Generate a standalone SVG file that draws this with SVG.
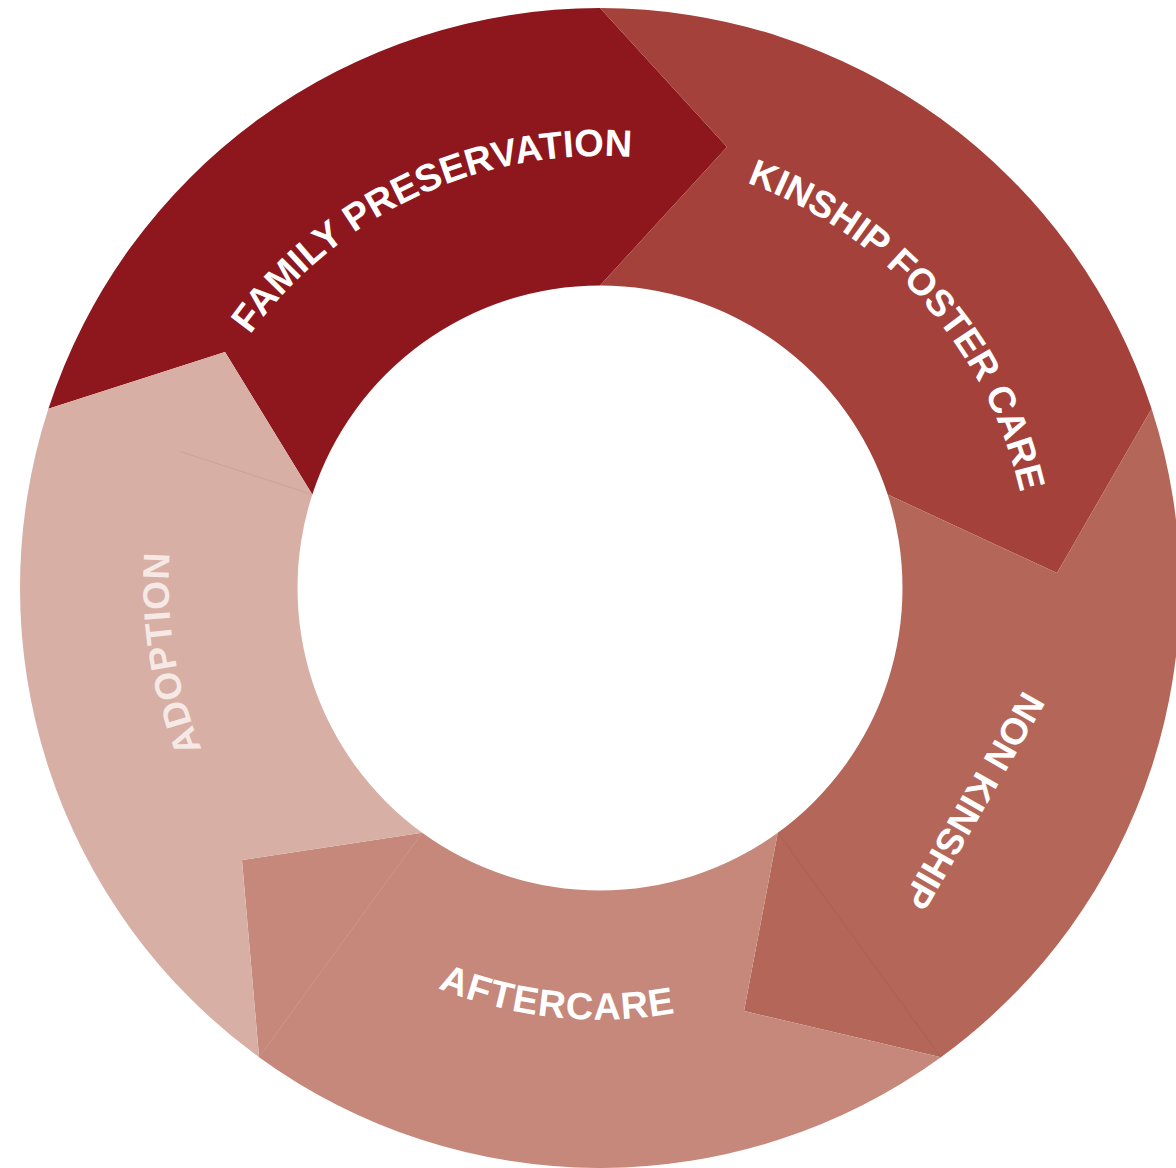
<svg xmlns="http://www.w3.org/2000/svg" width="1176" height="1168" viewBox="0 0 1176 1168">
<style>
.lbl{font-family:"Liberation Sans",Arial,Helvetica,sans-serif;font-weight:bold;font-size:37px;fill:#ffffff;}
.lbl-light{fill:#F6E8E4;}
.seam{fill:none;stroke-width:1;}
</style>
<defs>
<path id="arcFamily" d="M250.06,334.69 A432,432 0 0 1 747.75,182.05"/>
<path id="arcKinship" d="M746.70,182.73 A431,431 0 0 1 1031,588"/>
<path id="arcAftercare" d="M437.97,988.03 A431.6,431.6 0 0 0 747.62,993.57"/>
<path id="arcAdoption" d="M201.80,749.10 A433,433 0 0 1 193.11,439.91"/>
</defs>
<rect width="1176" height="1168" fill="#ffffff"/>
<g id="family-preservation">
<path fill="#8D171D" d="M48.39,408.77 A580,580 0 0 1 600,8 L727,147 L600,285.5 A302.5,302.5 0 0 0 312.31,494.52 L225,352 Z"/>
<text class="lbl" style="font-size:38px"><textPath href="#arcFamily">FAMILY PRESERVATION</textPath></text>
</g>
<g id="kinship-foster-care">
<path fill="#A4413A" d="M600,8 A580,580 0 0 1 1151.61,408.77 L1057,573 L887.69,494.52 A302.5,302.5 0 0 0 600,285.5 L727,147 Z"/>
<text class="lbl" style="font-size:37.5px"><textPath href="#arcKinship">KINSHIP FOSTER CARE</textPath></text>
</g>
<g id="non-kinship">
<path fill="#B46659" d="M1151.61,408.77 A580,580 0 0 1 940.92,1057.23 L744,1011 L777.80,832.73 A302.5,302.5 0 0 0 887.69,494.52 L1057,573 Z"/>
<text class="lbl" x="0" y="0" text-anchor="middle" transform="translate(963,794.5) rotate(120)">NON KINSHIP</text>
</g>
<g id="aftercare">
<path fill="#C5887B" d="M940.92,1057.23 A580,580 0 0 1 259.08,1057.23 L242,860 L422.20,832.73 A302.5,302.5 0 0 0 777.80,832.73 L744,1011 Z"/>
<text class="lbl" style="font-size:38px" letter-spacing="0.9"><textPath href="#arcAftercare">AFTERCARE</textPath></text>
</g>
<g id="adoption">
<path fill="#D7AFA4" d="M259.08,1057.23 A580,580 0 0 1 48.39,408.77 L225,352 L312.31,494.52 A302.5,302.5 0 0 0 422.20,832.73 L242,860 Z"/>
<text class="lbl lbl-light" letter-spacing="0.7"><textPath href="#arcAdoption">ADOPTION</textPath></text>
</g>
<g id="connectors">
<line class="seam" x1="312.31" y1="494.52" x2="180" y2="451.5" stroke="#C89A90" stroke-opacity="0.6"/>
<line class="seam" x1="777.80" y1="832.73" x2="940.92" y2="1057.23" stroke="#A95A4F" stroke-opacity="0.6"/>
<line class="seam" x1="422.20" y1="832.73" x2="259.08" y2="1057.23" stroke="#D39E93" stroke-opacity="0.6"/>
</g>
</svg>
